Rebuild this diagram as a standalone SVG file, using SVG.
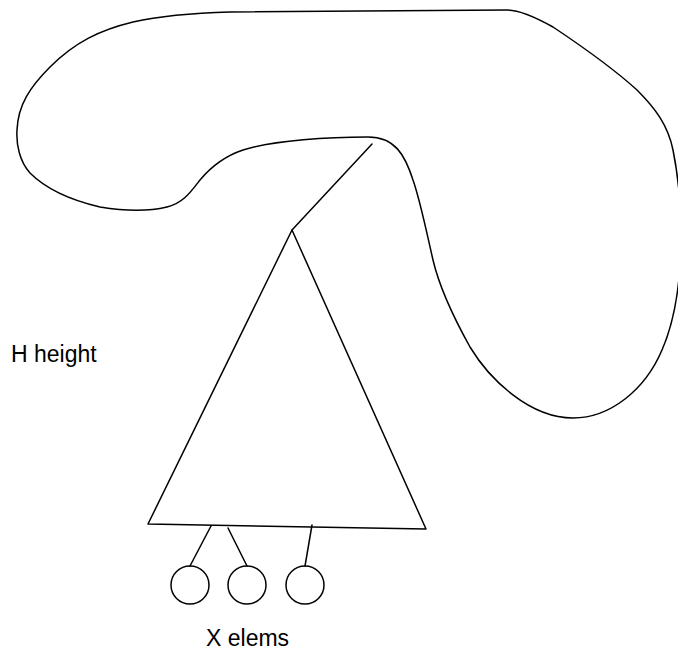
<svg xmlns="http://www.w3.org/2000/svg" width="678" height="652" viewBox="0 0 678 652">
<style>
.s{fill:none;stroke:#000;stroke-width:1.5;stroke-linejoin:round;stroke-linecap:round}
.t{font-family:"Liberation Sans",Arial,sans-serif;font-size:23px;fill:#000}
</style>
<rect width="678" height="652" fill="#fff"/>
<g id="blob">
<path class="s" d="M368,137 C330,137 275,140 243,150 C225,156 210,168 200,180 C190,193 183,203 167,207 C150,211 125,211 100,207 C70,200 45,188 30,173 C20,162 16,145 17,130 C18,105 30,87 50,67 C75,42 100,30 133,22 C160,16 195,13 230,12 L507,10 C520,10 535,17 553,27 C580,45 615,70 637,90 C655,108 668,125 673,150 C678,175 681,205 681,235 C681,280 675,320 662,350 C645,390 610,418 573,418 C530,418 490,380 470,347 C455,320 440,290 433,260 C425,225 420,200 413,180 C405,155 395,137 368,137 Z"/>
</g>
<g id="tree">
<path class="s" d="M292,230 L148,524 L426,529 Z"/>
</g>
<g id="c1"><circle class="s" cx="190" cy="585" r="19"/></g>
<g id="c2"><circle class="s" cx="247" cy="585" r="19"/></g>
<g id="c3"><circle class="s" cx="305" cy="585" r="19"/></g>
<g id="connectors">
<line class="s" x1="372" y1="144" x2="292" y2="230"/>
<line class="s" x1="211" y1="526" x2="190" y2="566"/>
<line class="s" x1="228" y1="528" x2="247" y2="566"/>
<line class="s" x1="312" y1="525" x2="305" y2="566"/>
</g>
<g id="labels">
<text class="t" x="11" y="362">H height</text>
<text class="t" x="206" y="646">X elems</text>
</g>
</svg>
